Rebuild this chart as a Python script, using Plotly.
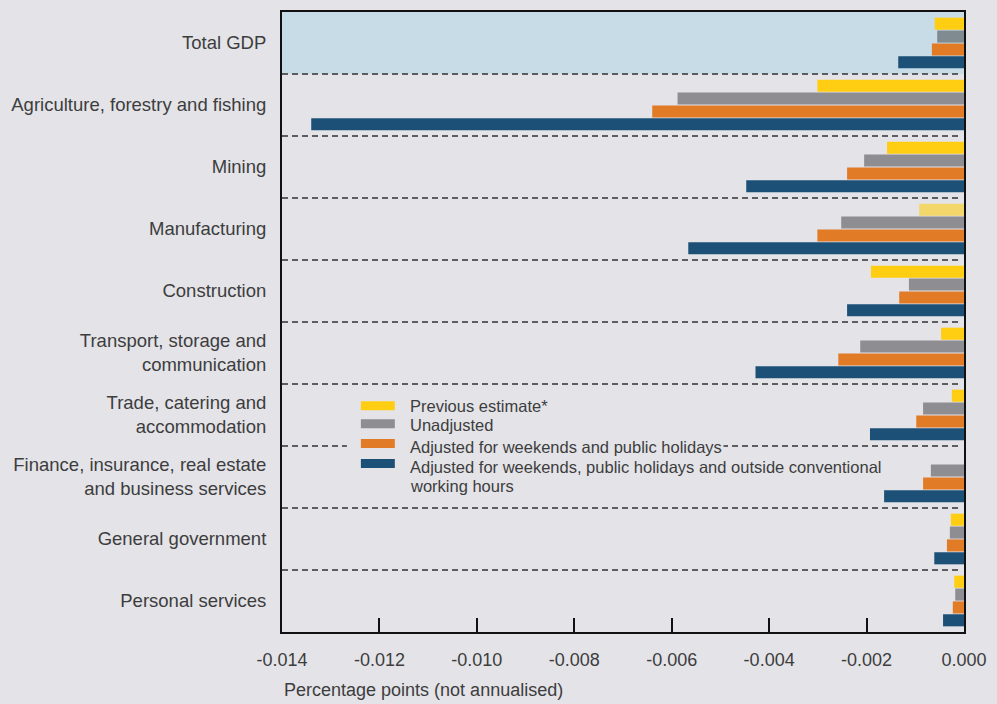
import plotly.graph_objects as go

# ---------------- data ----------------
categories = [
    "Total GDP",
    "Agriculture, forestry and fishing",
    "Mining",
    "Manufacturing",
    "Construction",
    "Transport, storage and<br>communication",
    "Trade, catering and<br>accommodation",
    "Finance, insurance, real estate<br>and business services",
    "General government",
    "Personal services",
]
series_names = [
    "Previous estimate*",
    "Unadjusted",
    "Adjusted for weekends and public holidays",
    "Adjusted for weekends, public holidays and outside conventional<br>working hours",
]
previous_estimate = [-0.00060, -0.00301, -0.00158, -0.00092, -0.00191, -0.00047, -0.00025, 0.0, -0.00027, -0.00020]
unadjusted = [-0.00055, -0.00588, -0.00205, -0.00252, -0.00113, -0.00213, -0.00084, -0.00068, -0.00029, -0.00018]
adjusted_weekends = [-0.00066, -0.00640, -0.00240, -0.00301, -0.00133, -0.00258, -0.00098, -0.00084, -0.00035, -0.00023]
adjusted_all = [-0.00135, -0.01340, -0.00447, -0.00566, -0.00240, -0.00428, -0.00193, -0.00164, -0.00061, -0.00043]
tick_values = [-0.014, -0.012, -0.010, -0.008, -0.006, -0.004, -0.002, 0.0]
tick_labels = ["-0.014", "-0.012", "-0.010", "-0.008", "-0.006", "-0.004", "-0.002", "0.000"]
x_title = "Percentage points (not annualised)"

# ---------------- styles ----------------
BG = "#E3E3E8"
TXT = "#3d3d3d"
FONT = "Liberation Sans, Arial, sans-serif"
YELLOW = "#FFCE12"
GRAY = "rgba(57,55,60,0.5)"
ORANGE = "#E27B26"
BLUE = "#1D5077"
yellow_colors = [YELLOW] * len(categories)
yellow_colors[3] = "rgba(255,206,18,0.58)"
series_colors = [yellow_colors, GRAY, ORANGE, BLUE]
legend_colors = [YELLOW, "#8E8D92", ORANGE, BLUE]

W, H = 997, 704
ML, MR, MT, MB = 282, 32, 10, 72
PW, PH = W - ML - MR, H - MT - MB


def px2x(px):
    return (px - ML) / PW


def px2y(py):
    return 1 - (py - MT) / PH


fig = go.Figure()
for name, vals, col in zip(series_names, [previous_estimate, unadjusted, adjusted_weekends, adjusted_all], series_colors):
    fig.add_trace(go.Bar(
        y=categories, x=vals, name=name.replace("<br>", " "), orientation="h",
        marker=dict(color=col, line=dict(width=0)),
        showlegend=False,
    ))

shapes = []
# Total GDP highlight band
shapes.append(dict(type="rect", xref="paper", yref="y", x0=0, x1=1, y0=-0.5, y1=0.5,
                   fillcolor="#C7DCE6", line=dict(width=0), layer="below"))
# dashed separators
for i in range(len(categories) - 1):
    shapes.append(dict(type="line", xref="paper", yref="y", x0=0, x1=px2x(960), y0=i + 0.5, y1=i + 0.5,
                       line=dict(color="#333333", width=1.5, dash="6px,4px"), layer="below"))

# custom legend
shapes.append(dict(type="rect", xref="paper", yref="paper", x0=px2x(347), x1=px2x(410),
                   y0=px2y(495), y1=px2y(396), fillcolor=BG, line=dict(width=0), layer="above"))
swatch_tops = [400.5, 418.5, 438.5, 458.5]
text_centers = [405, 424, 446, 466]
annotations = []
for name, col, st, tc in zip(series_names, legend_colors, swatch_tops, text_centers):
    shapes.append(dict(type="rect", xref="paper", yref="paper", x0=px2x(361), x1=px2x(395),
                       y0=px2y(st + 9), y1=px2y(st), fillcolor=col, line=dict(width=0), layer="above"))
    for k, line in enumerate(name.split("<br>")):
        annotations.append(dict(xref="paper", yref="paper", x=px2x(408), y=px2y(tc + 20 * k),
                                xanchor="left", yanchor="middle", align="left", showarrow=False,
                                text=line, bgcolor=BG, borderpad=1,
                                font=dict(family=FONT, size=16.5, color=TXT)))

annotations.append(dict(xref="paper", yref="paper", x=0, y=px2y(690), xanchor="left", yanchor="middle",
                        showarrow=False, text=x_title, font=dict(family=FONT, size=18, color=TXT)))

fig.update_layout(
    width=W, height=H,
    margin=dict(l=ML, r=MR, t=MT, b=MB),
    paper_bgcolor=BG, plot_bgcolor=BG,
    barmode="group", bargap=0.17, bargroupgap=0.06,
    font=dict(family=FONT, size=18, color=TXT),
    shapes=shapes, annotations=annotations,
    showlegend=False,
)
fig.update_xaxes(
    range=[-0.014, 0.0], tickvals=tick_values, ticktext=tick_labels,
    showgrid=False, zeroline=False,
    showline=True, mirror=True, linecolor="#111111", linewidth=2,
    ticks="inside", ticklen=14, tickwidth=2, tickcolor="#111111",
    ticklabelstandoff=10, tickfont=dict(family=FONT, size=18, color=TXT),
)
fig.update_yaxes(
    autorange="reversed", showgrid=False, zeroline=False,
    showline=True, mirror=True, linecolor="#111111", linewidth=2,
    ticks="", ticklabelstandoff=10, tickfont=dict(family=FONT, size=18.5, color=TXT),
)

fig.write_html("out.html", config={"displayModeBar": False},
               post_script="document.body.style.margin='0';document.body.style.overflow='hidden';")
